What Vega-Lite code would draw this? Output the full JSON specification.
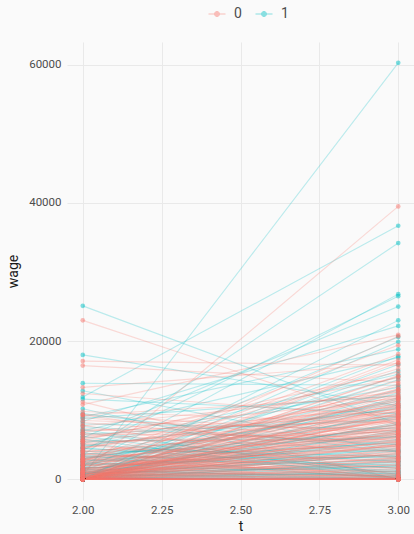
{
  "$schema": "https://vega.github.io/schema/vega-lite/v6.json",
  "autosize": {"type": "none"},
  "width": 347,
  "height": 458,
  "padding": {"left": 67, "top": 42, "right": 0, "bottom": 34},
  "background": "#fafafa",
  "config": {
    "view": {"stroke": null},
    "font": "Roboto",
    "axis": {
      "domain": false,
      "ticks": false,
      "gridColor": "#e9e9e9",
      "gridWidth": 1,
      "labelColor": "#4d4d4d",
      "labelFont": "Roboto",
      "labelFontSize": 11.5,
      "titleFont": "Roboto",
      "titleFontSize": 14,
      "titleFontWeight": "normal",
      "titleColor": "#1a1a1a"
    },
    "legend": {
      "labelFont": "Roboto",
      "labelFontSize": 14,
      "labelColor": "#4d4d4d"
    }
  },
  "data": {
    "values": [
      {"id":1,"g":"1","t":2,"wage":500},{"id":1,"g":"1","t":3,"wage":60300},
      {"id":2,"g":"1","t":2,"wage":11900},{"id":2,"g":"1","t":3,"wage":36700},
      {"id":3,"g":"1","t":2,"wage":3500},{"id":3,"g":"1","t":3,"wage":34200},
      {"id":4,"g":"1","t":2,"wage":25100},{"id":4,"g":"1","t":3,"wage":8000},
      {"id":5,"g":"1","t":2,"wage":18000},{"id":5,"g":"1","t":3,"wage":10600},
      {"id":6,"g":"1","t":2,"wage":13900},{"id":6,"g":"1","t":3,"wage":13600},
      {"id":7,"g":"1","t":2,"wage":2000},{"id":7,"g":"1","t":3,"wage":26800},
      {"id":8,"g":"1","t":2,"wage":4200},{"id":8,"g":"1","t":3,"wage":26500},
      {"id":9,"g":"1","t":2,"wage":6000},{"id":9,"g":"1","t":3,"wage":25000},
      {"id":10,"g":"1","t":2,"wage":0},{"id":10,"g":"1","t":3,"wage":23000},
      {"id":11,"g":"1","t":2,"wage":8400},{"id":11,"g":"1","t":3,"wage":22200},
      {"id":12,"g":"1","t":2,"wage":1500},{"id":12,"g":"1","t":3,"wage":20600},
      {"id":13,"g":"1","t":2,"wage":9000},{"id":13,"g":"1","t":3,"wage":18800},
      {"id":14,"g":"1","t":2,"wage":300},{"id":14,"g":"1","t":3,"wage":17800},
      {"id":15,"g":"1","t":2,"wage":7000},{"id":15,"g":"1","t":3,"wage":17600},
      {"id":16,"g":"1","t":2,"wage":5200},{"id":16,"g":"1","t":3,"wage":13300},
      {"id":17,"g":"1","t":2,"wage":11600},{"id":17,"g":"1","t":3,"wage":9500},
      {"id":18,"g":"1","t":2,"wage":0},{"id":18,"g":"1","t":3,"wage":12500},
      {"id":19,"g":"1","t":2,"wage":800},{"id":19,"g":"1","t":3,"wage":11800},
      {"id":20,"g":"1","t":2,"wage":2500},{"id":20,"g":"1","t":3,"wage":11000},
      {"id":21,"g":"1","t":2,"wage":4800},{"id":21,"g":"1","t":3,"wage":10200},
      {"id":22,"g":"1","t":2,"wage":0},{"id":22,"g":"1","t":3,"wage":9800},
      {"id":23,"g":"1","t":2,"wage":1200},{"id":23,"g":"1","t":3,"wage":9400},
      {"id":24,"g":"1","t":2,"wage":3000},{"id":24,"g":"1","t":3,"wage":9000},
      {"id":25,"g":"1","t":2,"wage":6500},{"id":25,"g":"1","t":3,"wage":8700},
      {"id":26,"g":"1","t":2,"wage":0},{"id":26,"g":"1","t":3,"wage":8200},
      {"id":27,"g":"1","t":2,"wage":700},{"id":27,"g":"1","t":3,"wage":8000},
      {"id":28,"g":"1","t":2,"wage":2200},{"id":28,"g":"1","t":3,"wage":7600},
      {"id":29,"g":"1","t":2,"wage":8000},{"id":29,"g":"1","t":3,"wage":7300},
      {"id":30,"g":"1","t":2,"wage":0},{"id":30,"g":"1","t":3,"wage":7000},
      {"id":31,"g":"1","t":2,"wage":400},{"id":31,"g":"1","t":3,"wage":6800},
      {"id":32,"g":"1","t":2,"wage":1800},{"id":32,"g":"1","t":3,"wage":6500},
      {"id":33,"g":"1","t":2,"wage":3600},{"id":33,"g":"1","t":3,"wage":6200},
      {"id":34,"g":"1","t":2,"wage":5500},{"id":34,"g":"1","t":3,"wage":6000},
      {"id":35,"g":"1","t":2,"wage":0},{"id":35,"g":"1","t":3,"wage":5800},
      {"id":36,"g":"1","t":2,"wage":1000},{"id":36,"g":"1","t":3,"wage":5600},
      {"id":37,"g":"1","t":2,"wage":2600},{"id":37,"g":"1","t":3,"wage":5300},
      {"id":38,"g":"1","t":2,"wage":7600},{"id":38,"g":"1","t":3,"wage":5000},
      {"id":39,"g":"1","t":2,"wage":0},{"id":39,"g":"1","t":3,"wage":4800},
      {"id":40,"g":"1","t":2,"wage":300},{"id":40,"g":"1","t":3,"wage":4500},
      {"id":41,"g":"1","t":2,"wage":1600},{"id":41,"g":"1","t":3,"wage":4300},
      {"id":42,"g":"1","t":2,"wage":4000},{"id":42,"g":"1","t":3,"wage":4100},
      {"id":43,"g":"1","t":2,"wage":9500},{"id":43,"g":"1","t":3,"wage":3900},
      {"id":44,"g":"1","t":2,"wage":0},{"id":44,"g":"1","t":3,"wage":3700},
      {"id":45,"g":"1","t":2,"wage":600},{"id":45,"g":"1","t":3,"wage":3500},
      {"id":46,"g":"1","t":2,"wage":2100},{"id":46,"g":"1","t":3,"wage":3300},
      {"id":47,"g":"1","t":2,"wage":3200},{"id":47,"g":"1","t":3,"wage":3100},
      {"id":48,"g":"1","t":2,"wage":0},{"id":48,"g":"1","t":3,"wage":3000},
      {"id":49,"g":"1","t":2,"wage":1300},{"id":49,"g":"1","t":3,"wage":2800},
      {"id":50,"g":"1","t":2,"wage":5000},{"id":50,"g":"1","t":3,"wage":2600},
      {"id":51,"g":"1","t":2,"wage":0},{"id":51,"g":"1","t":3,"wage":2500},
      {"id":52,"g":"1","t":2,"wage":200},{"id":52,"g":"1","t":3,"wage":2300},
      {"id":53,"g":"1","t":2,"wage":2800},{"id":53,"g":"1","t":3,"wage":2100},
      {"id":54,"g":"1","t":2,"wage":0},{"id":54,"g":"1","t":3,"wage":2000},
      {"id":55,"g":"1","t":2,"wage":900},{"id":55,"g":"1","t":3,"wage":1800},
      {"id":56,"g":"1","t":2,"wage":4500},{"id":56,"g":"1","t":3,"wage":1600},
      {"id":57,"g":"1","t":2,"wage":0},{"id":57,"g":"1","t":3,"wage":1500},
      {"id":58,"g":"1","t":2,"wage":1700},{"id":58,"g":"1","t":3,"wage":1300},
      {"id":59,"g":"1","t":2,"wage":0},{"id":59,"g":"1","t":3,"wage":1200},
      {"id":60,"g":"1","t":2,"wage":3800},{"id":60,"g":"1","t":3,"wage":1000},
      {"id":61,"g":"1","t":2,"wage":0},{"id":61,"g":"1","t":3,"wage":900},
      {"id":62,"g":"1","t":2,"wage":500},{"id":62,"g":"1","t":3,"wage":800},
      {"id":63,"g":"1","t":2,"wage":6800},{"id":63,"g":"1","t":3,"wage":700},
      {"id":64,"g":"1","t":2,"wage":0},{"id":64,"g":"1","t":3,"wage":600},
      {"id":65,"g":"1","t":2,"wage":1100},{"id":65,"g":"1","t":3,"wage":500},
      {"id":66,"g":"1","t":2,"wage":0},{"id":66,"g":"1","t":3,"wage":400},
      {"id":67,"g":"1","t":2,"wage":2400},{"id":67,"g":"1","t":3,"wage":300},
      {"id":68,"g":"1","t":2,"wage":0},{"id":68,"g":"1","t":3,"wage":200},
      {"id":69,"g":"1","t":2,"wage":7200},{"id":69,"g":"1","t":3,"wage":100},
      {"id":70,"g":"1","t":2,"wage":0},{"id":70,"g":"1","t":3,"wage":0},
      {"id":71,"g":"1","t":2,"wage":0},{"id":71,"g":"1","t":3,"wage":0},
      {"id":72,"g":"1","t":2,"wage":0},{"id":72,"g":"1","t":3,"wage":0},
      {"id":73,"g":"1","t":2,"wage":3400},{"id":73,"g":"1","t":3,"wage":0},
      {"id":74,"g":"1","t":2,"wage":5800},{"id":74,"g":"1","t":3,"wage":0},
      {"id":75,"g":"1","t":2,"wage":10200},{"id":75,"g":"1","t":3,"wage":0},
      {"id":76,"g":"1","t":2,"wage":1400},{"id":76,"g":"1","t":3,"wage":0},
      {"id":77,"g":"1","t":2,"wage":0},{"id":77,"g":"1","t":3,"wage":0},
      {"id":78,"g":"1","t":2,"wage":800},{"id":78,"g":"1","t":3,"wage":0},
      {"id":79,"g":"1","t":2,"wage":0},{"id":79,"g":"1","t":3,"wage":150},
      {"id":80,"g":"1","t":2,"wage":12800},{"id":80,"g":"1","t":3,"wage":4000},
      {"id":81,"g":"1","t":2,"wage":0},{"id":81,"g":"1","t":3,"wage":16600},
      {"id":82,"g":"1","t":2,"wage":200},{"id":82,"g":"1","t":3,"wage":14400},
      {"id":83,"g":"1","t":2,"wage":4600},{"id":83,"g":"1","t":3,"wage":15200},
      {"id":84,"g":"1","t":2,"wage":1900},{"id":84,"g":"1","t":3,"wage":11300},
      {"id":85,"g":"1","t":2,"wage":0},{"id":85,"g":"1","t":3,"wage":10700},
      {"id":261,"g":"1","t":2,"wage":0},{"id":261,"g":"1","t":3,"wage":19900},
      {"id":262,"g":"1","t":2,"wage":500},{"id":262,"g":"1","t":3,"wage":15700},
      {"id":263,"g":"1","t":2,"wage":1400},{"id":263,"g":"1","t":3,"wage":12900},
      {"id":264,"g":"1","t":2,"wage":0},{"id":264,"g":"1","t":3,"wage":11600},
      {"id":265,"g":"1","t":2,"wage":2900},{"id":265,"g":"1","t":3,"wage":10400},
      {"id":266,"g":"1","t":2,"wage":0},{"id":266,"g":"1","t":3,"wage":9200},
      {"id":267,"g":"1","t":2,"wage":700},{"id":267,"g":"1","t":3,"wage":7900},
      {"id":268,"g":"1","t":2,"wage":3300},{"id":268,"g":"1","t":3,"wage":7100},
      {"id":269,"g":"1","t":2,"wage":0},{"id":269,"g":"1","t":3,"wage":6300},
      {"id":270,"g":"1","t":2,"wage":1500},{"id":270,"g":"1","t":3,"wage":5100},
      {"id":271,"g":"1","t":2,"wage":0},{"id":271,"g":"1","t":3,"wage":4100},
      {"id":272,"g":"1","t":2,"wage":4400},{"id":272,"g":"1","t":3,"wage":3300},
      {"id":273,"g":"1","t":2,"wage":0},{"id":273,"g":"1","t":3,"wage":2600},
      {"id":274,"g":"1","t":2,"wage":900},{"id":274,"g":"1","t":3,"wage":1900},
      {"id":275,"g":"1","t":2,"wage":0},{"id":275,"g":"1","t":3,"wage":1100},
      {"id":276,"g":"1","t":2,"wage":6200},{"id":276,"g":"1","t":3,"wage":500},
      {"id":277,"g":"1","t":2,"wage":0},{"id":277,"g":"1","t":3,"wage":0},
      {"id":278,"g":"1","t":2,"wage":0},{"id":278,"g":"1","t":3,"wage":0},
      {"id":279,"g":"1","t":2,"wage":2000},{"id":279,"g":"1","t":3,"wage":14800},
      {"id":280,"g":"1","t":2,"wage":8800},{"id":280,"g":"1","t":3,"wage":12100},
      {"id":86,"g":"0","t":2,"wage":1000},{"id":86,"g":"0","t":3,"wage":39500},
      {"id":87,"g":"0","t":2,"wage":23000},{"id":87,"g":"0","t":3,"wage":7800},
      {"id":88,"g":"0","t":2,"wage":17100},{"id":88,"g":"0","t":3,"wage":16500},
      {"id":89,"g":"0","t":2,"wage":16450},{"id":89,"g":"0","t":3,"wage":14000},
      {"id":90,"g":"0","t":2,"wage":13300},{"id":90,"g":"0","t":3,"wage":16800},
      {"id":91,"g":"0","t":2,"wage":12400},{"id":91,"g":"0","t":3,"wage":9000},
      {"id":92,"g":"0","t":2,"wage":10800},{"id":92,"g":"0","t":3,"wage":20900},
      {"id":93,"g":"0","t":2,"wage":9300},{"id":93,"g":"0","t":3,"wage":12000},
      {"id":94,"g":"0","t":2,"wage":9300},{"id":94,"g":"0","t":3,"wage":6500},
      {"id":95,"g":"0","t":2,"wage":9300},{"id":95,"g":"0","t":3,"wage":3000},
      {"id":96,"g":"0","t":2,"wage":400},{"id":96,"g":"0","t":3,"wage":20700},
      {"id":97,"g":"0","t":2,"wage":0},{"id":97,"g":"0","t":3,"wage":16900},
      {"id":98,"g":"0","t":2,"wage":2600},{"id":98,"g":"0","t":3,"wage":16000},
      {"id":99,"g":"0","t":2,"wage":5800},{"id":99,"g":"0","t":3,"wage":14700},
      {"id":100,"g":"0","t":2,"wage":0},{"id":100,"g":"0","t":3,"wage":14300},
      {"id":101,"g":"0","t":2,"wage":1500},{"id":101,"g":"0","t":3,"wage":13500},
      {"id":102,"g":"0","t":2,"wage":3000},{"id":102,"g":"0","t":3,"wage":13000},
      {"id":103,"g":"0","t":2,"wage":7700},{"id":103,"g":"0","t":3,"wage":12600},
      {"id":104,"g":"0","t":2,"wage":0},{"id":104,"g":"0","t":3,"wage":12200},
      {"id":105,"g":"0","t":2,"wage":500},{"id":105,"g":"0","t":3,"wage":11800},
      {"id":106,"g":"0","t":2,"wage":2000},{"id":106,"g":"0","t":3,"wage":11500},
      {"id":107,"g":"0","t":2,"wage":4400},{"id":107,"g":"0","t":3,"wage":11200},
      {"id":108,"g":"0","t":2,"wage":0},{"id":108,"g":"0","t":3,"wage":11000},
      {"id":109,"g":"0","t":2,"wage":1200},{"id":109,"g":"0","t":3,"wage":10800},
      {"id":110,"g":"0","t":2,"wage":6200},{"id":110,"g":"0","t":3,"wage":10500},
      {"id":111,"g":"0","t":2,"wage":0},{"id":111,"g":"0","t":3,"wage":10300},
      {"id":112,"g":"0","t":2,"wage":800},{"id":112,"g":"0","t":3,"wage":10000},
      {"id":113,"g":"0","t":2,"wage":3400},{"id":113,"g":"0","t":3,"wage":9800},
      {"id":114,"g":"0","t":2,"wage":0},{"id":114,"g":"0","t":3,"wage":9600},
      {"id":115,"g":"0","t":2,"wage":1800},{"id":115,"g":"0","t":3,"wage":9400},
      {"id":116,"g":"0","t":2,"wage":5000},{"id":116,"g":"0","t":3,"wage":9200},
      {"id":117,"g":"0","t":2,"wage":0},{"id":117,"g":"0","t":3,"wage":9000},
      {"id":118,"g":"0","t":2,"wage":300},{"id":118,"g":"0","t":3,"wage":8800},
      {"id":119,"g":"0","t":2,"wage":2500},{"id":119,"g":"0","t":3,"wage":8600},
      {"id":120,"g":"0","t":2,"wage":7000},{"id":120,"g":"0","t":3,"wage":8400},
      {"id":121,"g":"0","t":2,"wage":0},{"id":121,"g":"0","t":3,"wage":8200},
      {"id":122,"g":"0","t":2,"wage":1000},{"id":122,"g":"0","t":3,"wage":8000},
      {"id":123,"g":"0","t":2,"wage":4000},{"id":123,"g":"0","t":3,"wage":7800},
      {"id":124,"g":"0","t":2,"wage":0},{"id":124,"g":"0","t":3,"wage":7600},
      {"id":125,"g":"0","t":2,"wage":600},{"id":125,"g":"0","t":3,"wage":7400},
      {"id":126,"g":"0","t":2,"wage":2200},{"id":126,"g":"0","t":3,"wage":7200},
      {"id":127,"g":"0","t":2,"wage":8500},{"id":127,"g":"0","t":3,"wage":7000},
      {"id":128,"g":"0","t":2,"wage":0},{"id":128,"g":"0","t":3,"wage":6800},
      {"id":129,"g":"0","t":2,"wage":1400},{"id":129,"g":"0","t":3,"wage":6600},
      {"id":130,"g":"0","t":2,"wage":3000},{"id":130,"g":"0","t":3,"wage":6400},
      {"id":131,"g":"0","t":2,"wage":0},{"id":131,"g":"0","t":3,"wage":6200},
      {"id":132,"g":"0","t":2,"wage":200},{"id":132,"g":"0","t":3,"wage":6000},
      {"id":133,"g":"0","t":2,"wage":5500},{"id":133,"g":"0","t":3,"wage":5800},
      {"id":134,"g":"0","t":2,"wage":0},{"id":134,"g":"0","t":3,"wage":5600},
      {"id":135,"g":"0","t":2,"wage":900},{"id":135,"g":"0","t":3,"wage":5400},
      {"id":136,"g":"0","t":2,"wage":2700},{"id":136,"g":"0","t":3,"wage":5200},
      {"id":137,"g":"0","t":2,"wage":0},{"id":137,"g":"0","t":3,"wage":5000},
      {"id":138,"g":"0","t":2,"wage":1600},{"id":138,"g":"0","t":3,"wage":4800},
      {"id":139,"g":"0","t":2,"wage":4200},{"id":139,"g":"0","t":3,"wage":4600},
      {"id":140,"g":"0","t":2,"wage":0},{"id":140,"g":"0","t":3,"wage":4400},
      {"id":141,"g":"0","t":2,"wage":400},{"id":141,"g":"0","t":3,"wage":4200},
      {"id":142,"g":"0","t":2,"wage":6500},{"id":142,"g":"0","t":3,"wage":4000},
      {"id":143,"g":"0","t":2,"wage":0},{"id":143,"g":"0","t":3,"wage":3800},
      {"id":144,"g":"0","t":2,"wage":1100},{"id":144,"g":"0","t":3,"wage":3600},
      {"id":145,"g":"0","t":2,"wage":3300},{"id":145,"g":"0","t":3,"wage":3400},
      {"id":146,"g":"0","t":2,"wage":0},{"id":146,"g":"0","t":3,"wage":3200},
      {"id":147,"g":"0","t":2,"wage":2000},{"id":147,"g":"0","t":3,"wage":3000},
      {"id":148,"g":"0","t":2,"wage":0},{"id":148,"g":"0","t":3,"wage":2800},
      {"id":149,"g":"0","t":2,"wage":700},{"id":149,"g":"0","t":3,"wage":2600},
      {"id":150,"g":"0","t":2,"wage":4800},{"id":150,"g":"0","t":3,"wage":2400},
      {"id":151,"g":"0","t":2,"wage":0},{"id":151,"g":"0","t":3,"wage":2200},
      {"id":152,"g":"0","t":2,"wage":1300},{"id":152,"g":"0","t":3,"wage":2000},
      {"id":153,"g":"0","t":2,"wage":0},{"id":153,"g":"0","t":3,"wage":1800},
      {"id":154,"g":"0","t":2,"wage":3600},{"id":154,"g":"0","t":3,"wage":1600},
      {"id":155,"g":"0","t":2,"wage":0},{"id":155,"g":"0","t":3,"wage":1400},
      {"id":156,"g":"0","t":2,"wage":500},{"id":156,"g":"0","t":3,"wage":1200},
      {"id":157,"g":"0","t":2,"wage":2400},{"id":157,"g":"0","t":3,"wage":1000},
      {"id":158,"g":"0","t":2,"wage":0},{"id":158,"g":"0","t":3,"wage":800},
      {"id":159,"g":"0","t":2,"wage":7800},{"id":159,"g":"0","t":3,"wage":600},
      {"id":160,"g":"0","t":2,"wage":0},{"id":160,"g":"0","t":3,"wage":500},
      {"id":161,"g":"0","t":2,"wage":1000},{"id":161,"g":"0","t":3,"wage":400},
      {"id":162,"g":"0","t":2,"wage":0},{"id":162,"g":"0","t":3,"wage":300},
      {"id":163,"g":"0","t":2,"wage":2900},{"id":163,"g":"0","t":3,"wage":200},
      {"id":164,"g":"0","t":2,"wage":0},{"id":164,"g":"0","t":3,"wage":100},
      {"id":165,"g":"0","t":2,"wage":5200},{"id":165,"g":"0","t":3,"wage":0},
      {"id":166,"g":"0","t":2,"wage":0},{"id":166,"g":"0","t":3,"wage":0},
      {"id":167,"g":"0","t":2,"wage":0},{"id":167,"g":"0","t":3,"wage":0},
      {"id":168,"g":"0","t":2,"wage":0},{"id":168,"g":"0","t":3,"wage":0},
      {"id":169,"g":"0","t":2,"wage":0},{"id":169,"g":"0","t":3,"wage":0},
      {"id":170,"g":"0","t":2,"wage":0},{"id":170,"g":"0","t":3,"wage":0},
      {"id":171,"g":"0","t":2,"wage":0},{"id":171,"g":"0","t":3,"wage":0},
      {"id":172,"g":"0","t":2,"wage":0},{"id":172,"g":"0","t":3,"wage":0},
      {"id":173,"g":"0","t":2,"wage":0},{"id":173,"g":"0","t":3,"wage":0},
      {"id":174,"g":"0","t":2,"wage":0},{"id":174,"g":"0","t":3,"wage":0},
      {"id":175,"g":"0","t":2,"wage":0},{"id":175,"g":"0","t":3,"wage":0},
      {"id":176,"g":"0","t":2,"wage":0},{"id":176,"g":"0","t":3,"wage":0},
      {"id":177,"g":"0","t":2,"wage":0},{"id":177,"g":"0","t":3,"wage":0},
      {"id":178,"g":"0","t":2,"wage":0},{"id":178,"g":"0","t":3,"wage":0},
      {"id":179,"g":"0","t":2,"wage":0},{"id":179,"g":"0","t":3,"wage":0},
      {"id":180,"g":"0","t":2,"wage":0},{"id":180,"g":"0","t":3,"wage":0},
      {"id":181,"g":"0","t":2,"wage":1500},{"id":181,"g":"0","t":3,"wage":0},
      {"id":182,"g":"0","t":2,"wage":900},{"id":182,"g":"0","t":3,"wage":0},
      {"id":183,"g":"0","t":2,"wage":3800},{"id":183,"g":"0","t":3,"wage":0},
      {"id":184,"g":"0","t":2,"wage":11200},{"id":184,"g":"0","t":3,"wage":0},
      {"id":185,"g":"0","t":2,"wage":600},{"id":185,"g":"0","t":3,"wage":0},
      {"id":186,"g":"0","t":2,"wage":0},{"id":186,"g":"0","t":3,"wage":12900},
      {"id":187,"g":"0","t":2,"wage":0},{"id":187,"g":"0","t":3,"wage":15000},
      {"id":188,"g":"0","t":2,"wage":300},{"id":188,"g":"0","t":3,"wage":7000},
      {"id":189,"g":"0","t":2,"wage":100},{"id":189,"g":"0","t":3,"wage":5000},
      {"id":190,"g":"0","t":2,"wage":0},{"id":190,"g":"0","t":3,"wage":4000},
      {"id":191,"g":"0","t":2,"wage":0},{"id":191,"g":"0","t":3,"wage":2500},
      {"id":192,"g":"0","t":2,"wage":0},{"id":192,"g":"0","t":3,"wage":1500},
      {"id":193,"g":"0","t":2,"wage":200},{"id":193,"g":"0","t":3,"wage":9500},
      {"id":194,"g":"0","t":2,"wage":0},{"id":194,"g":"0","t":3,"wage":6500},
      {"id":195,"g":"0","t":2,"wage":6800},{"id":195,"g":"0","t":3,"wage":11700},
      {"id":196,"g":"0","t":2,"wage":4600},{"id":196,"g":"0","t":3,"wage":10900},
      {"id":197,"g":"0","t":2,"wage":0},{"id":197,"g":"0","t":3,"wage":11400},
      {"id":198,"g":"0","t":2,"wage":2300},{"id":198,"g":"0","t":3,"wage":10200},
      {"id":199,"g":"0","t":2,"wage":8900},{"id":199,"g":"0","t":3,"wage":5500},
      {"id":200,"g":"0","t":2,"wage":0},{"id":200,"g":"0","t":3,"wage":8900},
      {"id":201,"g":"0","t":2,"wage":0},{"id":201,"g":"0","t":3,"wage":10600},
      {"id":202,"g":"0","t":2,"wage":0},{"id":202,"g":"0","t":3,"wage":9900},
      {"id":203,"g":"0","t":2,"wage":0},{"id":203,"g":"0","t":3,"wage":9100},
      {"id":204,"g":"0","t":2,"wage":0},{"id":204,"g":"0","t":3,"wage":8500},
      {"id":205,"g":"0","t":2,"wage":0},{"id":205,"g":"0","t":3,"wage":7900},
      {"id":206,"g":"0","t":2,"wage":0},{"id":206,"g":"0","t":3,"wage":7300},
      {"id":207,"g":"0","t":2,"wage":0},{"id":207,"g":"0","t":3,"wage":6700},
      {"id":208,"g":"0","t":2,"wage":0},{"id":208,"g":"0","t":3,"wage":6100},
      {"id":209,"g":"0","t":2,"wage":0},{"id":209,"g":"0","t":3,"wage":5500},
      {"id":210,"g":"0","t":2,"wage":0},{"id":210,"g":"0","t":3,"wage":4900},
      {"id":211,"g":"0","t":2,"wage":0},{"id":211,"g":"0","t":3,"wage":4300},
      {"id":212,"g":"0","t":2,"wage":0},{"id":212,"g":"0","t":3,"wage":3700},
      {"id":213,"g":"0","t":2,"wage":0},{"id":213,"g":"0","t":3,"wage":3100},
      {"id":214,"g":"0","t":2,"wage":0},{"id":214,"g":"0","t":3,"wage":2700},
      {"id":215,"g":"0","t":2,"wage":0},{"id":215,"g":"0","t":3,"wage":2100},
      {"id":216,"g":"0","t":2,"wage":0},{"id":216,"g":"0","t":3,"wage":1700},
      {"id":217,"g":"0","t":2,"wage":0},{"id":217,"g":"0","t":3,"wage":1100},
      {"id":218,"g":"0","t":2,"wage":0},{"id":218,"g":"0","t":3,"wage":700},
      {"id":219,"g":"0","t":2,"wage":500},{"id":219,"g":"0","t":3,"wage":10400},
      {"id":220,"g":"0","t":2,"wage":300},{"id":220,"g":"0","t":3,"wage":9300},
      {"id":221,"g":"0","t":2,"wage":800},{"id":221,"g":"0","t":3,"wage":8700},
      {"id":222,"g":"0","t":2,"wage":200},{"id":222,"g":"0","t":3,"wage":7700},
      {"id":223,"g":"0","t":2,"wage":1200},{"id":223,"g":"0","t":3,"wage":6900},
      {"id":224,"g":"0","t":2,"wage":600},{"id":224,"g":"0","t":3,"wage":6300},
      {"id":225,"g":"0","t":2,"wage":1500},{"id":225,"g":"0","t":3,"wage":5700},
      {"id":226,"g":"0","t":2,"wage":400},{"id":226,"g":"0","t":3,"wage":5100},
      {"id":227,"g":"0","t":2,"wage":2000},{"id":227,"g":"0","t":3,"wage":4500},
      {"id":228,"g":"0","t":2,"wage":700},{"id":228,"g":"0","t":3,"wage":3900},
      {"id":229,"g":"0","t":2,"wage":2500},{"id":229,"g":"0","t":3,"wage":3300},
      {"id":230,"g":"0","t":2,"wage":1000},{"id":230,"g":"0","t":3,"wage":2900},
      {"id":231,"g":"0","t":2,"wage":3500},{"id":231,"g":"0","t":3,"wage":12300},
      {"id":232,"g":"0","t":2,"wage":4500},{"id":232,"g":"0","t":3,"wage":11900},
      {"id":233,"g":"0","t":2,"wage":5500},{"id":233,"g":"0","t":3,"wage":10100},
      {"id":234,"g":"0","t":2,"wage":6000},{"id":234,"g":"0","t":3,"wage":9700},
      {"id":235,"g":"0","t":2,"wage":3900},{"id":235,"g":"0","t":3,"wage":8300},
      {"id":236,"g":"0","t":2,"wage":2800},{"id":236,"g":"0","t":3,"wage":7500},
      {"id":237,"g":"0","t":2,"wage":5300},{"id":237,"g":"0","t":3,"wage":6900},
      {"id":238,"g":"0","t":2,"wage":6600},{"id":238,"g":"0","t":3,"wage":6100},
      {"id":239,"g":"0","t":2,"wage":7300},{"id":239,"g":"0","t":3,"wage":5300},
      {"id":240,"g":"0","t":2,"wage":8200},{"id":240,"g":"0","t":3,"wage":4700},
      {"id":241,"g":"0","t":2,"wage":9800},{"id":241,"g":"0","t":3,"wage":8100},
      {"id":242,"g":"0","t":2,"wage":4100},{"id":242,"g":"0","t":3,"wage":200},
      {"id":243,"g":"0","t":2,"wage":2100},{"id":243,"g":"0","t":3,"wage":0},
      {"id":244,"g":"0","t":2,"wage":0},{"id":244,"g":"0","t":3,"wage":0},
      {"id":245,"g":"0","t":2,"wage":0},{"id":245,"g":"0","t":3,"wage":0},
      {"id":246,"g":"0","t":2,"wage":0},{"id":246,"g":"0","t":3,"wage":0},
      {"id":247,"g":"0","t":2,"wage":0},{"id":247,"g":"0","t":3,"wage":0},
      {"id":248,"g":"0","t":2,"wage":0},{"id":248,"g":"0","t":3,"wage":0},
      {"id":249,"g":"0","t":2,"wage":1700},{"id":249,"g":"0","t":3,"wage":300},
      {"id":250,"g":"0","t":2,"wage":3100},{"id":250,"g":"0","t":3,"wage":500},
      {"id":251,"g":"0","t":2,"wage":0},{"id":251,"g":"0","t":3,"wage":13800},
      {"id":252,"g":"0","t":2,"wage":0},{"id":252,"g":"0","t":3,"wage":12700},
      {"id":253,"g":"0","t":2,"wage":400},{"id":253,"g":"0","t":3,"wage":13100},
      {"id":254,"g":"0","t":2,"wage":1000},{"id":254,"g":"0","t":3,"wage":11600},
      {"id":255,"g":"0","t":2,"wage":2900},{"id":255,"g":"0","t":3,"wage":10700},
      {"id":256,"g":"0","t":2,"wage":0},{"id":256,"g":"0","t":3,"wage":14900},
      {"id":257,"g":"0","t":2,"wage":5600},{"id":257,"g":"0","t":3,"wage":15500},
      {"id":258,"g":"0","t":2,"wage":0},{"id":258,"g":"0","t":3,"wage":17300},
      {"id":259,"g":"0","t":2,"wage":1200},{"id":259,"g":"0","t":3,"wage":18100},
      {"id":260,"g":"0","t":2,"wage":2600},{"id":260,"g":"0","t":3,"wage":19400}
    ]
  },
  "encoding": {
    "x": {
      "field": "t",
      "type": "quantitative",
      "scale": {"domain": [1.95, 3.05], "nice": false, "zero": false},
      "axis": {
        "values": [2, 2.25, 2.5, 2.75, 3],
        "format": ".2f",
        "labelPadding": 4,
        "titlePadding": 4,
        "title": "t"
      }
    },
    "y": {
      "field": "wage",
      "type": "quantitative",
      "scale": {"domain": [-3015, 63315], "nice": false, "zero": false},
      "axis": {
        "values": [0, 20000, 40000, 60000],
        "format": "d",
        "labelPadding": 6,
        "titlePadding": 8,
        "title": "wage"
      }
    },
    "color": {
      "field": "g",
      "type": "nominal",
      "scale": {"domain": ["0", "1"], "range": ["#F8766D", "#00BFC4"]},
      "legend": {
        "title": null,
        "orient": "none",
        "direction": "horizontal",
        "legendX": 141,
        "legendY": -37,
        "padding": 0,
        "symbolType": "M-1,0H1M0.3,0A0.3,0.3 0 1,1 -0.3,0A0.3,0.3 0 1,1 0.3,0Z",
        "symbolSize": 289,
        "symbolOpacity": 0.45,
        "symbolStrokeWidth": 1,
        "labelOffset": 8,
        "columnPadding": 11,
        "encode": {
          "symbols": {
            "update": {
              "stroke": {"scale": "color", "field": "value"},
              "fill": {"scale": "color", "field": "value"}
            }
          }
        }
      }
    },
    "detail": {"field": "id", "type": "nominal"}
  },
  "layer": [
    {"mark": {"type": "line", "strokeWidth": 1.1, "opacity": 0.26}},
    {"mark": {"type": "point", "filled": true, "size": 22, "opacity": 0.5, "strokeWidth": 0}}
  ]
}
